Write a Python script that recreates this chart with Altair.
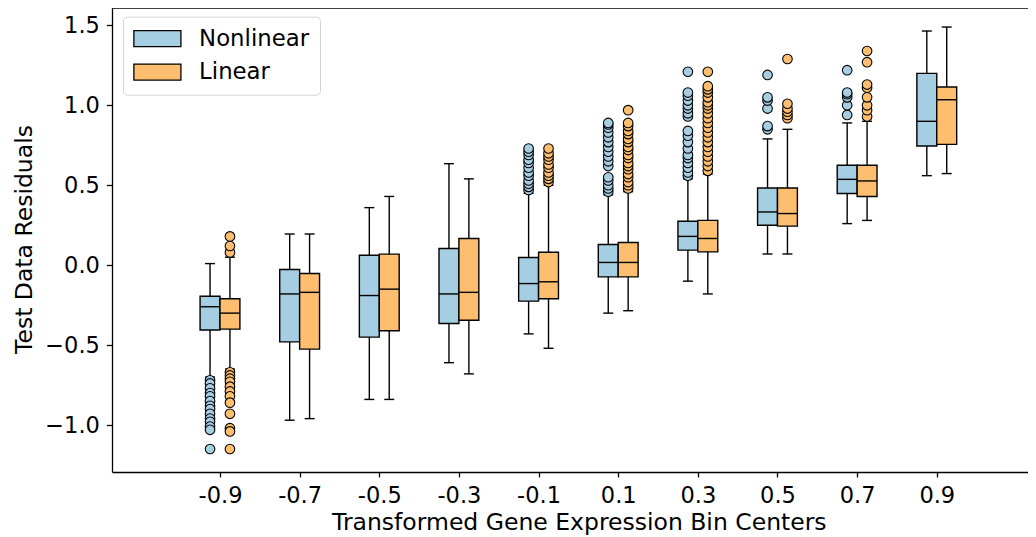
import altair as alt
import pandas as pd

# ---------------- data ----------------
bin_centers = [-0.9, -0.7, -0.5, -0.3, -0.1, 0.1, 0.3, 0.5, 0.7, 0.9]
models = ["Nonlinear", "Linear"]
colors = ["#a6cee3", "#fdbf6f"]

nl_lo  = [-0.70, -0.97, -0.84, -0.61, -0.43, -0.30, -0.10, 0.07, 0.26, 0.56]
nl_q1  = [-0.406, -0.48, -0.45, -0.365, -0.225, -0.073, 0.094, 0.25, 0.448, 0.746]
nl_med = [-0.26, -0.18, -0.19, -0.18, -0.115, 0.017, 0.18, 0.333, 0.537, 0.90]
nl_q3  = [-0.194, -0.027, 0.062, 0.104, 0.048, 0.129, 0.275, 0.483, 0.625, 1.20]
nl_hi  = [0.01, 0.195, 0.36, 0.635, 0.45, 0.44, 0.54, 0.79, 0.89, 1.465]

lin_lo  = [-0.65, -0.96, -0.84, -0.68, -0.52, -0.285, -0.18, 0.07, 0.28, 0.573]
lin_q1  = [-0.40, -0.525, -0.41, -0.345, -0.21, -0.073, 0.083, 0.244, 0.43, 0.756]
lin_med = [-0.30, -0.17, -0.15, -0.17, -0.104, 0.017, 0.167, 0.323, 0.527, 1.035]
lin_q3  = [-0.21, -0.052, 0.069, 0.167, 0.081, 0.142, 0.28, 0.483, 0.625, 1.115]
lin_hi  = [0.05, 0.195, 0.43, 0.54, 0.50, 0.46, 0.57, 0.85, 0.90, 1.49]

nl_outliers = [
    [-0.72, -0.74, -0.77, -0.80, -0.82, -0.85, -0.88, -0.90, -0.93, -0.96, -0.98, -1.01, -1.03, -1.15],
    [],
    [],
    [],
    [0.47, 0.49, 0.51, 0.53, 0.56, 0.58, 0.61, 0.64, 0.66, 0.69, 0.71, 0.73],
    [0.46, 0.48, 0.50, 0.53, 0.55, 0.62, 0.65, 0.68, 0.71, 0.74, 0.77, 0.80, 0.83, 0.86, 0.88, 0.89],
    [0.56, 0.58, 0.61, 0.64, 0.67, 0.69, 0.73, 0.77, 0.81, 0.84, 0.93, 0.95, 0.98, 1.00, 1.03, 1.06, 1.08, 1.21],
    [0.85, 0.87, 0.98, 1.03, 1.05, 1.19],
    [0.94, 1.00, 1.05, 1.07, 1.08, 1.22],
    [],
]
lin_outliers = [
    [0.08, 0.12, 0.18, -0.67, -0.69, -0.71, -0.73, -0.76, -0.79, -0.82, -0.86, -0.93, -1.02, -1.04, -1.15],
    [],
    [],
    [],
    [0.52, 0.54, 0.56, 0.58, 0.61, 0.63, 0.66, 0.68, 0.70, 0.73],
    [0.48, 0.50, 0.52, 0.55, 0.57, 0.60, 0.62, 0.64, 0.67, 0.69, 0.72, 0.74, 0.77, 0.79,
     0.82, 0.84, 0.87, 0.89, 0.97],
    [0.59, 0.62, 0.65, 0.68, 0.71, 0.74, 0.77, 0.80, 0.83, 0.86, 0.89, 0.92, 0.95, 0.98,
     1.00, 1.02, 1.05, 1.08, 1.10, 1.12, 1.21],
    [0.92, 0.94, 0.96, 0.98, 1.01, 1.29],
    [0.93, 0.97, 1.00, 1.05, 1.11, 1.13, 1.27, 1.34],
    [],
]

y_ticks = [-1.0, -0.5, 0.0, 0.5, 1.0, 1.5]

# ---------------- tables ----------------
rows = []
for m, lo, q1, md, q3, hi in [
    ("Nonlinear", nl_lo, nl_q1, nl_med, nl_q3, nl_hi),
    ("Linear", lin_lo, lin_q1, lin_med, lin_q3, lin_hi),
]:
    for i, b in enumerate(bin_centers):
        rows.append(dict(bin=b, model=m, lo=lo[i], q1=q1[i], med=md[i], q3=q3[i], hi=hi[i]))
stats = pd.DataFrame(rows)

orows = []
for m, outs in [("Nonlinear", nl_outliers), ("Linear", lin_outliers)]:
    for b, vals in zip(bin_centers, outs):
        for v in vals:
            orows.append(dict(bin=b, model=m, value=v))
outl = pd.DataFrame(orows)

X_DOM = [-1.1712, 1.1291]
Y_DOM = [-1.294, 1.609]
xs = alt.Scale(domain=X_DOM, nice=False, zero=False)
ys = alt.Scale(domain=Y_DOM, nice=False, zero=False)
cscale = alt.Scale(domain=models, range=colors)

HALF = 0.025
offset_expr = f"datum.bin + (datum.model == 'Nonlinear' ? {-HALF} : {HALF})"

X_TITLE = "Transformed Gene Expression Bin Centers"
Y_TITLE = "Test Data Residuals"

x_axis = alt.Axis(
    values=bin_centers,
    labelExpr="replace(format(datum.value, '.1f'), '\u2212', '-')",
    title=X_TITLE,
    titleX=466.8,
    titleY=57.3,
    titleAlign="center",
    titleBaseline="alphabetic",
    tickSize=5,
    labelPadding=7,
    grid=False,
)
y_axis = alt.Axis(
    values=y_ticks,
    format=".1f",
    title=Y_TITLE,
    titleAngle=270,
    titleX=-81,
    titleY=231,
    titleAlign="center",
    titleBaseline="alphabetic",
    tickSize=5.6,
    labelPadding=7,
    grid=False,
)


def X(field):
    return alt.X(field, scale=xs, axis=x_axis, title=X_TITLE)


def Y(field):
    return alt.Y(field, scale=ys, axis=y_axis, title=Y_TITLE)


def base(df):
    return (
        alt.Chart(df)
        .transform_calculate(xc=offset_expr)
        .transform_calculate(
            xl=f"datum.xc - {HALF}",
            xr=f"datum.xc + {HALF}",
            cl=f"datum.xc - {HALF / 2}",
            cr=f"datum.xc + {HALF / 2}",
        )
    )


LW = 1.4

whisk = base(stats).mark_rule(color="black", strokeWidth=LW).encode(
    x=X("xc:Q"), y=Y("lo:Q"), y2="hi:Q"
)
cap_lo = base(stats).mark_rule(color="black", strokeWidth=LW).encode(
    x=X("cl:Q"), x2="cr:Q", y=Y("lo:Q")
)
cap_hi = base(stats).mark_rule(color="black", strokeWidth=LW).encode(
    x=X("cl:Q"), x2="cr:Q", y=Y("hi:Q")
)

boxes = base(stats).mark_rect(stroke="black", strokeWidth=LW, opacity=1).encode(
    x=X("xl:Q"),
    x2="xr:Q",
    y=Y("q1:Q"),
    y2="q3:Q",
    fill=alt.Fill(
        "model:N",
        scale=cscale,
        legend=alt.Legend(
            title=None,
            orient="none",
            legendX=11,
            legendY=8.7,
            symbolType="M-2.94,-1H2.94V1H-2.94Z",
            symbolSize=256,
            symbolStrokeColor="black",
            symbolStrokeWidth=1.3,
            symbolOpacity=1,
            symbolOffset=12.5,
            labelOffset=30.3,
            labelFontSize=22.8,
            labelFont="DejaVu Sans",
            labelColor="black",
            padding=10.5,
            rowPadding=9.5,
            strokeColor="#d4d4d4",
            fillColor="white",
            cornerRadius=4,
        ),
    ),
)

medians = base(stats).mark_rule(color="black", strokeWidth=LW).encode(
    x=X("xl:Q"), x2="xr:Q", y=Y("med:Q")
)

fliers = base(outl).mark_circle(size=92, stroke="black", strokeWidth=1.1, opacity=1).encode(
    x=X("xc:Q"),
    y=Y("value:Q"),
    fill=alt.Fill("model:N", scale=cscale, legend=None),
)

top_spine = alt.Chart(pd.DataFrame({"v": [Y_DOM[1]]})).mark_rule(
    color="black", strokeWidth=1.3
).encode(y=Y("v:Q"))

chart = (
    alt.layer(whisk, cap_lo, cap_hi, boxes, medians, fliers, top_spine)
    .properties(
        width=916,
        height=464,
        autosize=alt.AutoSizeParams(type="none"),
        padding={"left": 104, "top": 0, "right": 0, "bottom": 65},
    )
    .configure(font="DejaVu Sans")
    .configure_view(stroke=None)
    .configure_axis(
        labelFont="DejaVu Sans",
        titleFont="DejaVu Sans",
        labelFontSize=22.5,
        titleFontSize=23.5,
        titleFontWeight="normal",
        labelColor="black",
        titleColor="black",
        domainColor="black",
        tickColor="black",
        domainWidth=1.3,
        tickWidth=1.3,
    )
)

chart.save("out.html", embed_options={"renderer": "svg", "actions": False})
